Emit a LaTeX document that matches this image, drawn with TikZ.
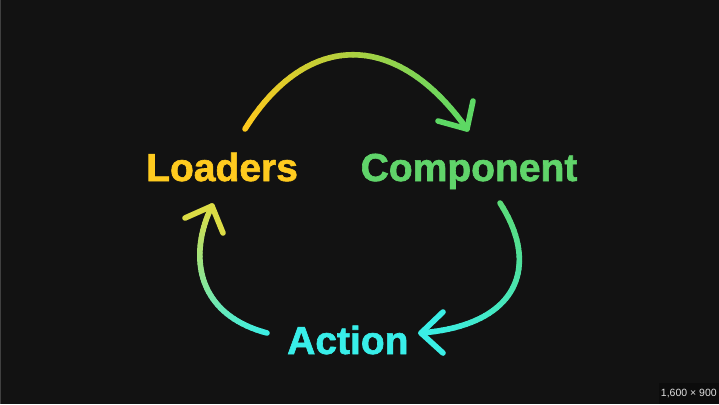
\documentclass[tikz,border=0pt]{standalone}
\usepackage{fontspec}
\setmainfont{Liberation Sans}
\newfontfamily\heavyfont{Liberation Sans}[UprightFont=*-Bold, FakeBold=1.6]
\usetikzlibrary{calc}
\definecolor{bg}{HTML}{121212}
\definecolor{badgebg}{HTML}{0C0C0C}
\definecolor{cyel}{HTML}{FFC91C}
\definecolor{cgrn}{HTML}{5DD864}
\definecolor{cgrn2}{HTML}{5BDB77}
\definecolor{ccyan}{HTML}{3AEEE6}
\definecolor{clime}{HTML}{DCDC45}
\definecolor{tyel}{HTML}{FFCB1F}
\definecolor{tgrn}{HTML}{60D46A}
\definecolor{tcyan}{HTML}{38EEE9}
\tikzset{
  label/.style={inner sep=0pt, anchor=base west, font=\heavyfont\fontsize{39}{39}\selectfont},
  stroke/.style={line width=5.6pt, line cap=round, line join=round},
}
% gradient stroke along named coordinates prefix0..prefixN
\newcommand{\gradstroke}[4]{% prefix, N, colA, colB
  \foreach \i in {1,...,#2}{%
    \pgfmathtruncatemacro\k{\i-1}%
    \pgfmathsetmacro\pc{100*(\i-0.5)/#2}%
    \draw[stroke, color=#4!\pc!#3] (#1\k) -- (#1\i);
  }%
}
\begin{document}
\begin{tikzpicture}[x=1pt,y=-1pt]
\fill[bg] (0,0) rectangle (719,404);
\useasboundingbox (0,0) rectangle (719,404);
\draw[color=black!75, line width=1pt] (0.5,0) -- (0.5,404);

% labels
\node[label, text=tyel] (loaders) at (146,181) {Loaders};
\node[label, text=tgrn] (component) at (360.5,181) {Component};
\node[label, text=tcyan] (action) at (287,354) {Action};

% top arrow: Loaders -> Component
\coordinate (tS) at (245,129);
\coordinate (tA) at (307,30);
\coordinate (tB) at (397,30);
\coordinate (tE) at (467,129);
\coordinate (tH1) at (473,101);
\coordinate (tH2) at (438,121);
\path (tS) .. controls (tA) and (tB) .. (tE)
  foreach \i in {0,...,40}{coordinate[pos=\i/40] (tp\i)};
\gradstroke{tp}{40}{cyel}{cgrn}
\draw[stroke, cgrn] (tH1) -- (tE) -- (tH2);

% right arrow: Component -> Action
\coordinate (rS) at (500,203);
\coordinate (rA) at (540,265);
\coordinate (rB) at (520,325);
\coordinate (rE) at (421,333);
\coordinate (rH1) at (443,312);
\coordinate (rH2) at (443,353);
\path (rS) .. controls (rA) and (rB) .. (rE)
  foreach \i in {0,...,40}{coordinate[pos=\i/40] (rp\i)};
\gradstroke{rp}{40}{cgrn2}{ccyan}
\draw[stroke, ccyan] (rH1) -- (rE) -- (rH2);

% left arrow: Action -> Loaders
\coordinate (lS) at (267,333);
\coordinate (lA) at (192,313);
\coordinate (lB) at (190,250);
\coordinate (lE) at (212,206);
\coordinate (lH1) at (185,218);
\coordinate (lH2) at (223,233);
\path (lS) .. controls (lA) and (lB) .. (lE)
  foreach \i in {0,...,40}{coordinate[pos=\i/40] (lp\i)};
\gradstroke{lp}{40}{ccyan}{clime}
\draw[stroke, clime] (lH1) -- (lE) -- (lH2);

% size badge
\node[fill=badgebg, anchor=south east, minimum width=60pt, minimum height=21pt,
      inner sep=0pt, text=white!88!black, font=\fontsize{10.5}{10.5}\selectfont] (badge) at (719,404) {1,600 × 900};
\end{tikzpicture}
\end{document}
